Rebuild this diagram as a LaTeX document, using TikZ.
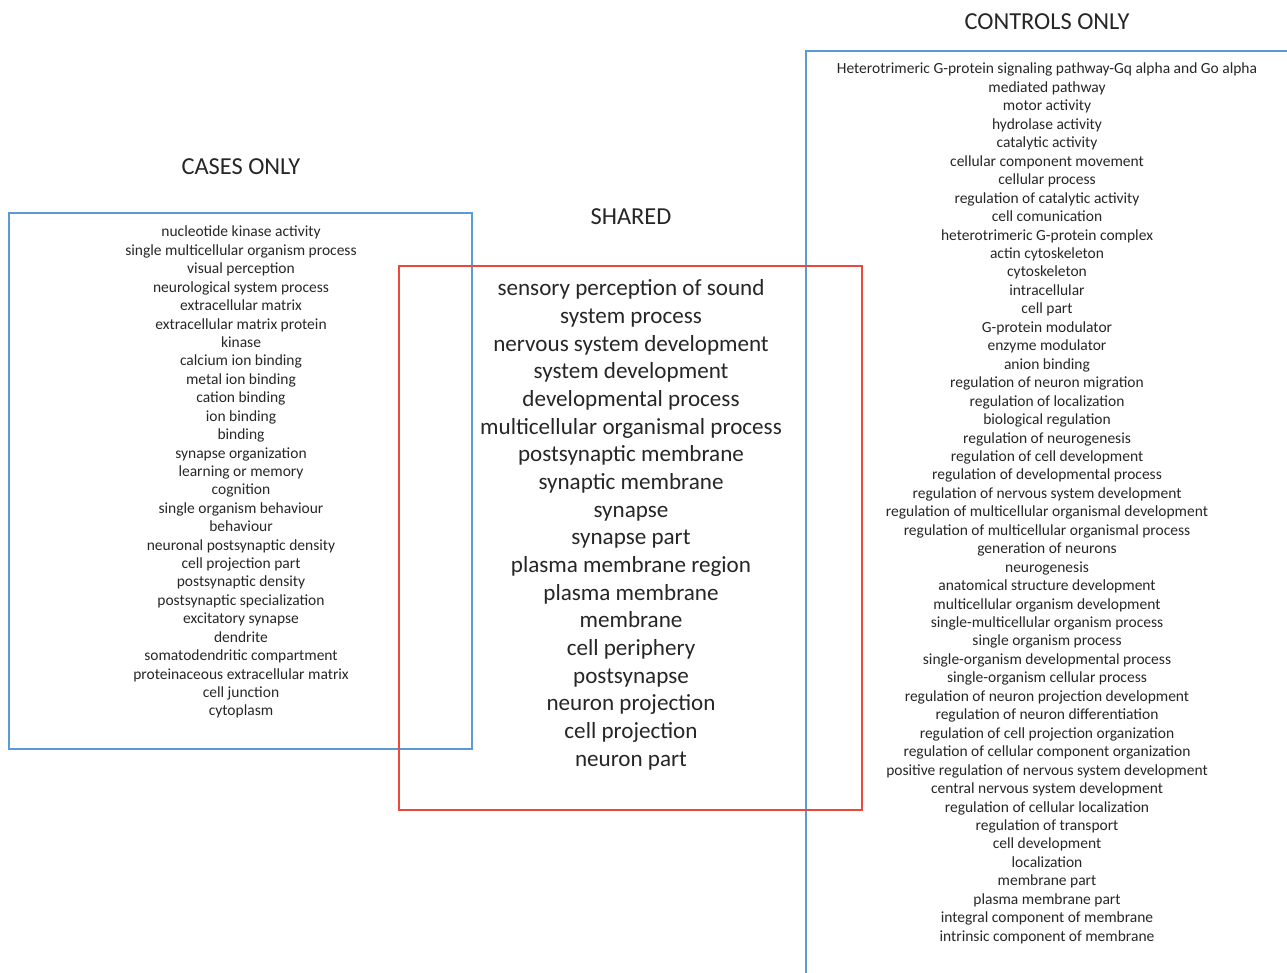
\documentclass[tikz,border=0pt]{standalone}
\usepackage{fontspec}
\setmainfont{Carlito}
\definecolor{boxblue}{RGB}{91,155,213}
\definecolor{boxred}{RGB}{237,72,60}
\definecolor{ink}{RGB}{38,38,38}
\begin{document}
\begin{tikzpicture}[x=1pt,y=-1pt,
  item/.style={anchor=base, inner sep=0pt, text=ink, font=\fontsize{15.5}{18}\selectfont},
  big/.style={anchor=base, inner sep=0pt, text=ink, font=\fontsize{23.1}{27}\selectfont},
  heading/.style={anchor=base, inner sep=0pt, text=ink, font=\fontsize{24.4}{28}\selectfont},
  bluebox/.style={draw=boxblue, line width=1.3pt},
  redbox/.style={draw=boxred, line width=1.3pt}]
\useasboundingbox (0,0) rectangle (1287,973);
% boxes
\draw[bluebox] (9,213) rectangle (472,749);
\draw[bluebox] (1290,51) -- (806,51) -- (806,976);
\draw[redbox] (399,266) rectangle (862,810);
% headings
\node[heading] (tcases) at (241,175) {CASES ONLY};
\node[heading] (tshared) at (631,225) {SHARED};
\node[heading] (tcontrols) at (1047,30) {CONTROLS ONLY};
% cases only
\foreach \t [count=\i] in {nucleotide kinase activity, single multicellular organism process, visual perception, neurological system process, extracellular matrix, extracellular matrix protein, kinase, calcium ion binding, metal ion binding, cation binding, ion binding, binding, synapse organization, learning or memory, cognition, single organism behaviour, behaviour, neuronal postsynaptic density, cell projection part, postsynaptic density, postsynaptic specialization, excitatory synapse, dendrite, somatodendritic compartment, proteinaceous extracellular matrix, cell junction, cytoplasm}
  \node[item] (L\i) at (241,{237+(\i-1)*18.42}) {\t};
% shared
\foreach \t [count=\i] in {sensory perception of sound, system process, nervous system development, system development, developmental process, multicellular organismal process, postsynaptic membrane, synaptic membrane, synapse, synapse part, plasma membrane region, plasma membrane, membrane, cell periphery, postsynapse, neuron projection, cell projection, neuron part}
  \node[big] (S\i) at (631,{296+(\i-1)*27.65}) {\t};
% controls only
\foreach \t [count=\i] in {Heterotrimeric G-protein signaling pathway-Gq alpha and Go alpha, mediated pathway, motor activity, hydrolase activity, catalytic activity, cellular component movement, cellular process, regulation of catalytic activity, cell comunication, heterotrimeric G-protein complex, actin cytoskeleton, cytoskeleton, intracellular, cell part, G-protein modulator, enzyme modulator, anion binding, regulation of neuron migration, regulation of localization, biological regulation, regulation of neurogenesis, regulation of cell development, regulation of developmental process, regulation of nervous system development, regulation of multicellular organismal development, regulation of multicellular organismal process, generation of neurons, neurogenesis, anatomical structure development, multicellular organism development, single-multicellular organism process, single organism process, single-organism developmental process, single-organism cellular process, regulation of neuron projection development, regulation of neuron differentiation, regulation of cell projection organization, regulation of cellular component organization, positive regulation of nervous system development, central nervous system development, regulation of cellular localization, regulation of transport, cell development, localization, membrane part, plasma membrane part, integral component of membrane, intrinsic component of membrane}
  \node[item] (R\i) at (1047,{74+(\i-1)*18.45}) {\t};
\end{tikzpicture}
\end{document}
